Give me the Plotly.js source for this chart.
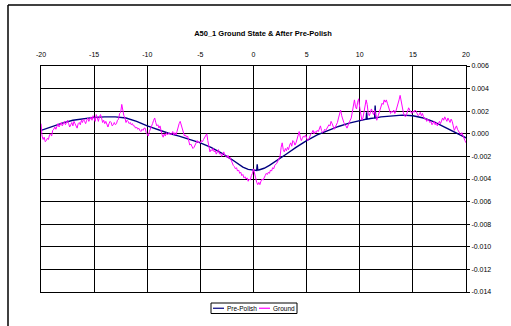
<!DOCTYPE html>
<html>
<head>
<meta charset="utf-8">
<script src="https://cdn.plot.ly/plotly-3.0.1.min.js"></script>
<style>
  html, body { margin: 0; padding: 0; background: #ffffff; }
  #chart { width: 511px; height: 326px; }
</style>
</head>
<body>
<div id="chart"></div>
<script>
// Pre-Polish profile (smooth fit with a few spikes)
const prePolishX = [-20, -19, -18, -17, -16, -15, -14, -13, -12, -11, -10, -9, -8, -7, -6, -5, -4, -3, -2, -1.5, -1, -0.5, 0, 0.3, 0.35, 0.4, 0.5, 1, 1.5, 2, 3, 4, 5, 6, 7, 8, 9, 10, 10.6, 10.65, 10.7, 11, 11.4, 11.45, 11.5, 12, 13, 14, 15, 16, 17, 18, 19, 20];
const prePolishY = [0.00030, 0.00065, 0.00095, 0.00120, 0.00135, 0.00145, 0.00150, 0.00150, 0.00140, 0.00110, 0.00070, 0.00035, 0.00005, -0.00020, -0.00050, -0.00080, -0.00120, -0.00170, -0.00230, -0.00260, -0.00295, -0.00315, -0.00325, -0.00325, -0.00270, -0.00320, -0.00320, -0.00305, -0.00280, -0.00250, -0.00185, -0.00120, -0.00060, -0.00010, 0.00030, 0.00065, 0.00095, 0.00120, 0.00130, 0.00190, 0.00130, 0.00135, 0.00140, 0.00250, 0.00140, 0.00150, 0.00160, 0.00165, 0.00160, 0.00140, 0.00105, 0.00060, 0.00015, -0.00035];

// Ground profile, sampled every 0.1
const groundX = [
  -20.0, -19.9, -19.8, -19.7, -19.6, -19.5, -19.4, -19.3, -19.2, -19.1,
  -19.0, -18.9, -18.8, -18.7, -18.6, -18.5, -18.4, -18.3, -18.2, -18.1,
  -18.0, -17.9, -17.8, -17.7, -17.6, -17.5, -17.4, -17.3, -17.2, -17.1,
  -17.0, -16.9, -16.8, -16.7, -16.6, -16.5, -16.4, -16.3, -16.2, -16.1,
  -16.0, -15.9, -15.8, -15.7, -15.6, -15.5, -15.4, -15.3, -15.2, -15.1,
  -15.0, -14.9, -14.8, -14.7, -14.6, -14.5, -14.4, -14.3, -14.2, -14.1,
  -14.0, -13.9, -13.8, -13.7, -13.6, -13.5, -13.4, -13.3, -13.2, -13.1,
  -13.0, -12.9, -12.8, -12.7, -12.6, -12.5, -12.4, -12.3, -12.2, -12.1,
  -12.0, -11.9, -11.8, -11.7, -11.6, -11.5, -11.4, -11.3, -11.2, -11.1,
  -11.0, -10.9, -10.8, -10.7, -10.6, -10.5, -10.4, -10.3, -10.2, -10.1,
  -10.0, -9.9, -9.8, -9.7, -9.6, -9.5, -9.4, -9.3, -9.2, -9.1,
  -9.0, -8.9, -8.8, -8.7, -8.6, -8.5, -8.4, -8.3, -8.2, -8.1,
  -8.0, -7.9, -7.8, -7.7, -7.6, -7.5, -7.4, -7.3, -7.2, -7.1,
  -7.0, -6.9, -6.8, -6.7, -6.6, -6.5, -6.4, -6.3, -6.2, -6.1,
  -6.0, -5.9, -5.8, -5.7, -5.6, -5.5, -5.4, -5.3, -5.2, -5.1,
  -5.0, -4.9, -4.8, -4.7, -4.6, -4.5, -4.4, -4.3, -4.2, -4.1,
  -4.0, -3.9, -3.8, -3.7, -3.6, -3.5, -3.4, -3.3, -3.2, -3.1,
  -3.0, -2.9, -2.8, -2.7, -2.6, -2.5, -2.4, -2.3, -2.2, -2.1,
  -2.0, -1.9, -1.8, -1.7, -1.6, -1.5, -1.4, -1.3, -1.2, -1.1,
  -1.0, -0.9, -0.8, -0.7, -0.6, -0.5, -0.4, -0.3, -0.2, -0.1,
  0.0, 0.1, 0.2, 0.3, 0.4, 0.5, 0.6, 0.7, 0.8, 0.9,
  1.0, 1.1, 1.2, 1.3, 1.4, 1.5, 1.6, 1.7, 1.8, 1.9,
  2.0, 2.1, 2.2, 2.3, 2.4, 2.5, 2.6, 2.7, 2.8, 2.9,
  3.0, 3.1, 3.2, 3.3, 3.4, 3.5, 3.6, 3.7, 3.8, 3.9,
  4.0, 4.1, 4.2, 4.3, 4.4, 4.5, 4.6, 4.7, 4.8, 4.9,
  5.0, 5.1, 5.2, 5.3, 5.4, 5.5, 5.6, 5.7, 5.8, 5.9,
  6.0, 6.1, 6.2, 6.3, 6.4, 6.5, 6.6, 6.7, 6.8, 6.9,
  7.0, 7.1, 7.2, 7.3, 7.4, 7.5, 7.6, 7.7, 7.8, 7.9,
  8.0, 8.1, 8.2, 8.3, 8.4, 8.5, 8.6, 8.7, 8.8, 8.9,
  9.0, 9.1, 9.2, 9.3, 9.4, 9.5, 9.6, 9.7, 9.8, 9.9,
  10.0, 10.1, 10.2, 10.3, 10.4, 10.5, 10.6, 10.7, 10.8, 10.9,
  11.0, 11.1, 11.2, 11.3, 11.4, 11.5, 11.6, 11.7, 11.8, 11.9,
  12.0, 12.1, 12.2, 12.3, 12.4, 12.5, 12.6, 12.7, 12.8, 12.9,
  13.0, 13.1, 13.2, 13.3, 13.4, 13.5, 13.6, 13.7, 13.8, 13.9,
  14.0, 14.1, 14.2, 14.3, 14.4, 14.5, 14.6, 14.7, 14.8, 14.9,
  15.0, 15.1, 15.2, 15.3, 15.4, 15.5, 15.6, 15.7, 15.8, 15.9,
  16.0, 16.1, 16.2, 16.3, 16.4, 16.5, 16.6, 16.7, 16.8, 16.9,
  17.0, 17.1, 17.2, 17.3, 17.4, 17.5, 17.6, 17.7, 17.8, 17.9,
  18.0, 18.1, 18.2, 18.3, 18.4, 18.5, 18.6, 18.7, 18.8, 18.9,
  19.0, 19.1, 19.2, 19.3, 19.4, 19.5, 19.6, 19.7, 19.8, 19.9,
  20.0
];
const groundY = [
  0.0009, -0.0002, -0.0005, -0.0003, -0.0007, -0.0006, -0.0004, -0.0005, -0.0001, 0.0000,
  -0.0002, 0.0003, 0.0004, 0.0006, 0.0004, 0.0007, 0.0009, 0.0006, 0.0008, 0.0010,
  0.0007, 0.0009, 0.0011, 0.0008, 0.0010, 0.0012, 0.0009, 0.0006, 0.0008, 0.0010,
  0.0007, 0.0011, 0.0009, 0.0006, 0.0005, 0.0009, 0.0010, 0.0008, 0.0012, 0.0010,
  0.0013, 0.0011, 0.0009, 0.0012, 0.0014, 0.0011, 0.0013, 0.0015, 0.0012, 0.0016,
  0.0014, 0.0011, 0.0017, 0.0013, 0.0011, 0.0015, 0.0017, 0.0014, 0.0010, 0.0012,
  0.0009, 0.0011, 0.0008, 0.0006, 0.0009, 0.0011, 0.0010, 0.0007, 0.0008, 0.0010,
  0.0008, 0.0009, 0.0012, 0.0013, 0.0018, 0.0019, 0.0026, 0.0019, 0.0016, 0.0014,
  0.0010, 0.0012, 0.0011, 0.0009, 0.0010, 0.0008, 0.0009, 0.0007, 0.0007, 0.0005,
  0.0006, 0.0004, 0.0005, 0.0003, 0.0002, 0.0004, 0.0003, 0.0005, 0.0005, 0.0001,
  -0.0001, -0.0002, 0.0002, 0.0004, 0.0006, 0.0009, 0.0012, 0.0014, 0.0010, 0.0007,
  0.0008, 0.0005, 0.0007, 0.0002, -0.0001, -0.0003, 0.0000, -0.0002, 0.0001, -0.0001,
  0.0000, 0.0001, -0.0001, 0.0000, 0.0002, -0.0001, 0.0001, -0.0001, 0.0002, 0.0006,
  0.0009, 0.0011, 0.0008, 0.0004, 0.0000, -0.0002, -0.0001, -0.0003, -0.0002, -0.0006,
  -0.0010, -0.0009, -0.0011, -0.0013, -0.0012, -0.0009, -0.0008, -0.0006, -0.0008, -0.0007,
  -0.0008, -0.0006, -0.0007, -0.0005, -0.0003, -0.0002, 0.0000, -0.0006, -0.0012, -0.0016,
  -0.0014, -0.0015, -0.0013, -0.0016, -0.0015, -0.0018, -0.0016, -0.0014, -0.0018, -0.0017,
  -0.0020, -0.0018, -0.0016, -0.0019, -0.0020, -0.0021, -0.0019, -0.0022, -0.0021, -0.0024,
  -0.0026, -0.0028, -0.0029, -0.0031, -0.0030, -0.0033, -0.0032, -0.0035, -0.0034, -0.0037,
  -0.0036, -0.0039, -0.0038, -0.0040, -0.0039, -0.0042, -0.0040, -0.0041, -0.0037, -0.0035,
  -0.0031, -0.0034, -0.0039, -0.0043, -0.0045, -0.0043, -0.0045, -0.0042, -0.0040, -0.0041,
  -0.0038, -0.0037, -0.0035, -0.0036, -0.0034, -0.0035, -0.0032, -0.0033, -0.0030, -0.0031,
  -0.0028, -0.0027, -0.0026, -0.0024, -0.0022, -0.0020, -0.0012, -0.0008, -0.0014, -0.0016,
  -0.0013, -0.0015, -0.0012, -0.0014, -0.0010, -0.0008, -0.0011, -0.0006, -0.0007, -0.0010,
  -0.0008, -0.0005, 0.0000, 0.0002, -0.0003, -0.0006, -0.0004, -0.0002, -0.0003, -0.0001,
  -0.0004, -0.0006, -0.0005, -0.0002, 0.0000, 0.0001, 0.0003, 0.0000, 0.0002, 0.0001,
  0.0003, 0.0002, 0.0005, 0.0007, 0.0003, 0.0001, 0.0002, 0.0004, 0.0003, 0.0005,
  0.0006, 0.0008, 0.0007, 0.0011, 0.0009, 0.0006, 0.0004, 0.0006, 0.0008, 0.0010,
  0.0014, 0.0019, 0.0021, 0.0016, 0.0012, 0.0010, 0.0008, 0.0007, 0.0005, 0.0008,
  0.0010, 0.0012, 0.0014, 0.0020, 0.0024, 0.0030, 0.0024, 0.0022, 0.0028, 0.0031,
  0.0023, 0.0016, 0.0012, 0.0014, 0.0020, 0.0028, 0.0030, 0.0026, 0.0018, 0.0016,
  0.0020, 0.0022, 0.0019, 0.0017, 0.0021, 0.0016, 0.0012, 0.0015, 0.0018, 0.0023,
  0.0025, 0.0027, 0.0026, 0.0030, 0.0028, 0.0030, 0.0027, 0.0024, 0.0020, 0.0018,
  0.0020, 0.0019, 0.0021, 0.0018, 0.0020, 0.0023, 0.0025, 0.0030, 0.0034, 0.0028,
  0.0022, 0.0019, 0.0016, 0.0015, 0.0017, 0.0020, 0.0023, 0.0021, 0.0019, 0.0018,
  0.0020, 0.0019, 0.0021, 0.0020, 0.0018, 0.0016, 0.0017, 0.0019, 0.0016, 0.0018,
  0.0015, 0.0013, 0.0014, 0.0011, 0.0013, 0.0012, 0.0010, 0.0011, 0.0008, 0.0010,
  0.0011, 0.0008, 0.0010, 0.0007, 0.0009, 0.0011, 0.0009, 0.0012, 0.0014, 0.0012,
  0.0015, 0.0013, 0.0011, 0.0014, 0.0012, 0.0010, 0.0013, 0.0011, 0.0007, 0.0003,
  0.0005, 0.0007, 0.0004, 0.0002, 0.0000, -0.0001, 0.0001, -0.0002, -0.0004, -0.0006,
  -0.0008
];

// Axis ticks
const xTickVals = [-20, -15, -10, -5, 0, 5, 10, 15, 20];
const xTickText = ['-20', '-15', '-10', '-5', '0', '5', '10', '15', '20'];
const yTickVals = [0.006, 0.004, 0.002, 0, -0.002, -0.004, -0.006, -0.008, -0.010, -0.012, -0.014];
const yTickText = ['0.006', '0.004', '0.002', '0.000', '-0.002', '-0.004', '-0.006', '-0.008', '-0.010', '-0.012', '-0.014'];

const seriesNames = ['Pre-Polish', 'Ground'];
const seriesColors = ['#000080', '#ff00ff'];

const W = 511, H = 326;
const M = { l: 41, r: 45, t: 66, b: 34 };
const PW = W - M.l - M.r, PH = H - M.t - M.b;
// pixel -> paper coordinate helpers for decorations outside the plot area
const px = v => (v - M.l) / PW;
const py = v => (H - M.b - v) / PH;

const font = 'Arial, "Liberation Sans", sans-serif';

const traces = [
  {
    x: prePolishX, y: prePolishY, name: seriesNames[0], type: 'scatter', mode: 'lines',
    line: { color: seriesColors[0], width: 1.4 }, showlegend: false, hoverinfo: 'skip'
  },
  {
    x: groundX, y: groundY, name: seriesNames[1], type: 'scatter', mode: 'lines',
    line: { color: seriesColors[1], width: 1 }, showlegend: false, hoverinfo: 'skip'
  }
];

// Compact boxed legend below the plot
const legBox = { x0: 211, x1: 297, y0: 303, y1: 313.5 };
const legMid = (legBox.y0 + legBox.y1) / 2;
const legendItems = [
  { name: seriesNames[0], color: seriesColors[0], lx0: 213, lx1: 224, tx: 225 },
  { name: seriesNames[1], color: seriesColors[1], lx0: 259, lx1: 270, tx: 271 }
];

const shapes = [
  // chart-area frame: left and top edges
  { type: 'line', xref: 'paper', yref: 'paper', x0: px(8), x1: px(8), y0: py(H + 5), y1: py(5),
    line: { color: '#000', width: 1.5 } },
  { type: 'line', xref: 'paper', yref: 'paper', x0: px(8), x1: px(W + 5), y0: py(5), y1: py(5),
    line: { color: '#000', width: 1.5 } },
  { type: 'rect', xref: 'paper', yref: 'paper', x0: px(legBox.x0), x1: px(legBox.x1),
    y0: py(legBox.y1), y1: py(legBox.y0), line: { color: '#000', width: 1 }, fillcolor: '#fff' }
];
const annotations = [];
legendItems.forEach(it => {
  shapes.push({ type: 'line', xref: 'paper', yref: 'paper', x0: px(it.lx0), x1: px(it.lx1),
    y0: py(legMid), y1: py(legMid), line: { color: it.color, width: 1.2 } });
  annotations.push({ xref: 'paper', yref: 'paper', x: px(it.tx), y: py(legMid),
    xanchor: 'left', yanchor: 'middle', text: it.name, showarrow: false,
    font: { family: font, size: 6.5, color: '#000' } });
});

const layout = {
  width: W, height: H,
  margin: M,
  paper_bgcolor: '#ffffff', plot_bgcolor: '#ffffff',
  showlegend: false,
  title: {
    text: '<b>A50_1 Ground State &amp; After Pre-Polish</b>',
    font: { family: font, size: 7.5, color: '#000' },
    x: 263 / W, xref: 'container', xanchor: 'center',
    y: 1 - 33 / H, yref: 'container', yanchor: 'middle'
  },
  xaxis: {
    side: 'top', range: [-20, 20], tickvals: xTickVals, ticktext: xTickText,
    showgrid: true, gridcolor: '#000', gridwidth: 1, zeroline: false,
    showline: true, mirror: true, linecolor: '#000', linewidth: 1,
    ticks: '', tickfont: { family: font, size: 7, color: '#000' },
    ticklabelstandoff: 5, fixedrange: true
  },
  yaxis: {
    side: 'right', range: [-0.014, 0.006], tickvals: yTickVals, ticktext: yTickText,
    showgrid: true, gridcolor: '#000', gridwidth: 1, zeroline: false,
    showline: true, mirror: true, linecolor: '#000', linewidth: 1,
    ticks: 'outside', ticklen: 3, tickcolor: '#000', tickwidth: 1,
    tickfont: { family: font, size: 7, color: '#000' }, fixedrange: true
  },
  shapes: shapes,
  annotations: annotations
};

Plotly.newPlot('chart', traces, layout, { displayModeBar: false, staticPlot: true });
</script>
</body>
</html>
